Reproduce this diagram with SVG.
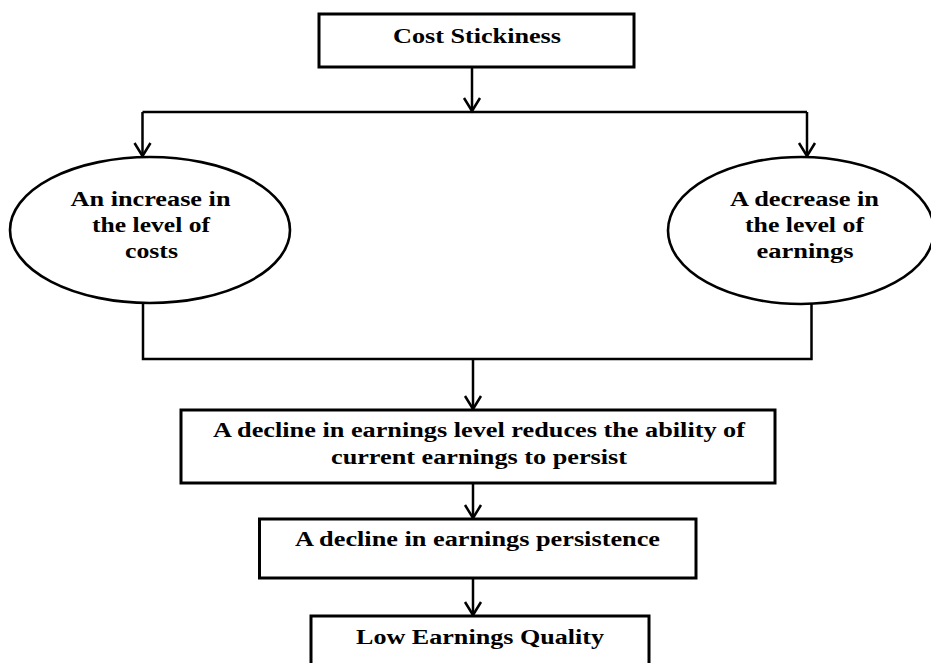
<svg xmlns="http://www.w3.org/2000/svg" width="931" height="663" viewBox="0 0 931 663">
<style>
.box{fill:#fff;stroke:#000;stroke-width:3}
.ell{fill:#fff;stroke:#000;stroke-width:2.6}
.con{fill:none;stroke:#000;stroke-width:2.5}
text{font-family:"Liberation Serif","Times New Roman",serif;font-weight:bold;font-size:20px;fill:#000;text-anchor:middle}
.big{font-size:21.5px}
</style>
<defs>
<marker id="arr" markerUnits="userSpaceOnUse" markerWidth="20" markerHeight="20" refX="0" refY="0" viewBox="-15 -10 17 20" orient="auto" overflow="visible">
<path d="M-13,-8 L0,0 L-13,8" fill="none" stroke="#000" stroke-width="2.5"/>
</marker>
</defs>
<rect width="931" height="663" fill="#fff"/>
<g id="connectors">
<line class="con" x1="472" y1="67" x2="472" y2="111" marker-end="url(#arr)"/>
<line class="con" x1="142.5" y1="112" x2="807" y2="112"/>
<line class="con" x1="142.5" y1="112" x2="142.5" y2="156" marker-end="url(#arr)"/>
<line class="con" x1="807" y1="112" x2="807" y2="156" marker-end="url(#arr)"/>
<polyline class="con" points="143,303 143,359 811.5,359 811.5,304"/>
<line class="con" x1="473" y1="359" x2="473" y2="409" marker-end="url(#arr)"/>
<line class="con" x1="473" y1="483" x2="473" y2="518" marker-end="url(#arr)"/>
<line class="con" x1="473" y1="578" x2="473" y2="615" marker-end="url(#arr)"/>
</g>
<g id="cost-stickiness">
<rect class="box" x="319" y="14" width="315" height="53"/>
<text class="big" x="477" y="42.5" textLength="168" lengthAdjust="spacingAndGlyphs">Cost Stickiness</text>
</g>
<g id="increase-costs">
<ellipse class="ell" cx="150" cy="230" rx="140" ry="73"/>
<text x="150.5" y="205.5" textLength="160" lengthAdjust="spacingAndGlyphs">An increase in</text>
<text x="151" y="231.5" textLength="118" lengthAdjust="spacingAndGlyphs">the level of</text>
<text x="151.5" y="257.5" textLength="53" lengthAdjust="spacingAndGlyphs">costs</text>
</g>
<g id="decrease-earnings">
<ellipse class="ell" cx="801" cy="230.5" rx="133" ry="73.5"/>
<text x="804.5" y="205.5" textLength="149" lengthAdjust="spacingAndGlyphs">A decrease in</text>
<text x="804.5" y="231.5" textLength="119" lengthAdjust="spacingAndGlyphs">the level of</text>
<text x="805" y="257.5" textLength="97" lengthAdjust="spacingAndGlyphs">earnings</text>
</g>
<g id="decline-level">
<rect class="box" x="181" y="410" width="594" height="73"/>
<text x="479" y="437" textLength="532" lengthAdjust="spacingAndGlyphs">A decline in earnings level reduces the ability of</text>
<text x="479" y="463.5" textLength="296" lengthAdjust="spacingAndGlyphs">current earnings to persist</text>
</g>
<g id="decline-persistence">
<rect class="box" x="259.5" y="519" width="436.5" height="59"/>
<text x="477.5" y="546" textLength="365" lengthAdjust="spacingAndGlyphs">A decline in earnings persistence</text>
</g>
<g id="low-quality">
<rect class="box" x="311" y="616" width="338" height="70"/>
<text x="480" y="643.5" textLength="248" lengthAdjust="spacingAndGlyphs">Low Earnings Quality</text>
</g>
</svg>
